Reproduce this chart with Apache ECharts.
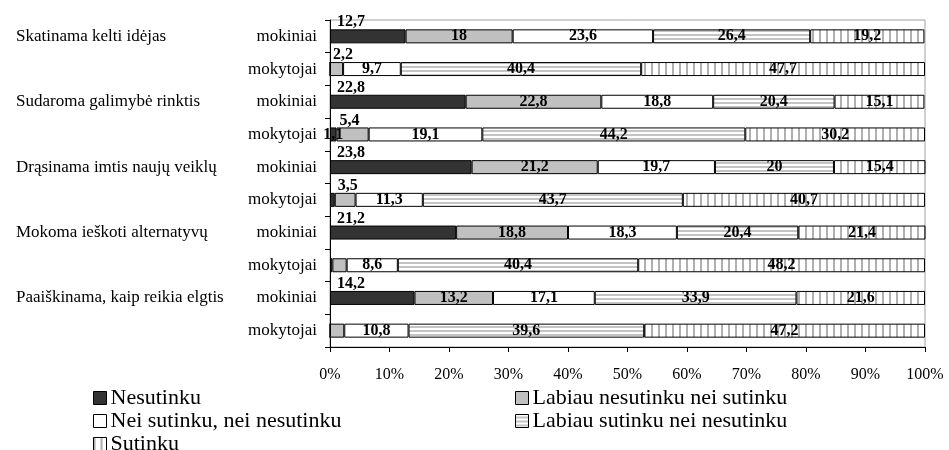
<!DOCTYPE html>
<html>
<head>
<meta charset="utf-8">
<script src="https://cdn.jsdelivr.net/npm/echarts@6/dist/echarts.min.js"></script>
<style>html,body{margin:0;padding:0;background:#fff;}#c{width:949px;height:450px;}</style>
</head>
<body>
<div id="c"></div>
<script>
const groups = ['Skatinama kelti idėjas', 'Sudaroma galimybė rinktis', 'Drąsinama imtis naujų veiklų', 'Mokoma ieškoti alternatyvų', 'Paaiškinama, kaip reikia elgtis'];
const roles = ['mokiniai', 'mokytojai'];
const categories = groups.flatMap(g => roles.map(r => g + '|' + r));
const seriesNames = ['Nesutinku', 'Labiau nesutinku nei sutinku', 'Nei sutinku, nei nesutinku', 'Labiau sutinku nei nesutinku', 'Sutinku'];
const nesutinku = [12.7, 0, 22.8, 1.1, 23.8, 0.8, 21.2, 0.4, 14.2, 0];
const labiauNesutinku = [18, 2.2, 22.8, 5.4, 21.2, 3.5, 18.8, 2.4, 13.2, 2.4];
const neiSutinku = [23.6, 9.7, 18.8, 19.1, 19.7, 11.3, 18.3, 8.6, 17.1, 10.8];
const labiauSutinku = [26.4, 40.4, 20.4, 44.2, 20, 43.7, 20.4, 40.4, 33.9, 39.6];
const sutinku = [19.2, 47.7, 15.1, 30.2, 15.4, 40.7, 21.4, 48.2, 21.6, 47.2];
const xTicks = [0, 10, 20, 30, 40, 50, 60, 70, 80, 90, 100];
// label placement modes per bar (a = above-left, i = inside, n = none)
const labelModes = [
  ['a','n','a','i','a','n','a','n','a','n'],
  ['i','a','i','a','i','a','i','n','i','n'],
  ['i','i','i','i','i','i','i','i','i','i'],
  ['i','i','i','i','i','i','i','i','i','i'],
  ['i','i','i','i','i','i','i','i','i','i']
];
const allValues = [nesutinku, labiauNesutinku, neiSutinku, labiauSutinku, sutinku];
// legend layout: [column, row] for each series
const legendSlots = [[0, 0], [1, 0], [0, 1], [1, 1], [0, 2]];

const SERIF = '"Liberation Serif", "Times New Roman", serif';

function pattern(kind) {
  const c = document.createElement('canvas');
  const ctx = c.getContext('2d');
  if (kind === 'h') {
    c.width = 4; c.height = 4;
    ctx.fillStyle = '#ffffff'; ctx.fillRect(0, 0, 4, 4);
    ctx.fillStyle = '#c4c4c4'; ctx.fillRect(0, 2, 4, 2);
  } else {
    c.width = 7; c.height = 4;
    ctx.fillStyle = '#ffffff'; ctx.fillRect(0, 0, 7, 4);
    ctx.fillStyle = '#b0b0b0'; ctx.fillRect(0, 0, 2, 4);
  }
  return { image: c, repeat: 'repeat' };
}
const fills = ['#333333', '#c0c0c0', '#ffffff', pattern('h'), pattern('v')];
const aboveOffset = [7, 3, 3, 3, 3];

const fmt = v => String(v).replace('.', ',');

const series = seriesNames.map((name, si) => ({
  name: name,
  type: 'bar',
  stack: 'all',
  barWidth: 14,
  yAxisIndex: 0,
  itemStyle: { color: fills[si], borderColor: '#000', borderWidth: 1 },
  data: allValues[si].map((v, i) => {
    const mode = labelModes[si][i];
    let label;
    if (mode === 'n' || v === 0) label = { show: false };
    else if (mode === 'a') label = { show: true, position: [aboveOffset[si], 1], align: 'left', verticalAlign: 'bottom' };
    else label = { show: true, position: 'inside' };
    return { value: v, label: label };
  }),
  label: {
    color: '#000', fontFamily: SERIF, fontWeight: 'bold', fontSize: 16,
    formatter: p => fmt(p.value)
  }
}));

const colX = [93, 515];
const rowY = [387, 410, 433];
const legends = seriesNames.map((name, si) => ({
  left: colX[legendSlots[si][0]], top: rowY[legendSlots[si][1]],
  orient: 'horizontal', padding: 0, icon: 'rect',
  itemWidth: 13, itemHeight: 13,
  itemStyle: { borderColor: '#000', borderWidth: 1 },
  textStyle: { color: '#000', fontFamily: SERIF, fontSize: 22, lineHeight: 22, padding: [0, 0, 0, -1] },
  data: [name]
}));

const chart = echarts.init(document.getElementById('c'), null, { renderer: 'canvas' });
chart.setOption({
  animation: false,
  backgroundColor: '#fff',
  grid: { left: 330, right: 24, top: 20, bottom: 103, show: true, borderColor: '#a0a0a0', borderWidth: 1 },
  xAxis: {
    type: 'value', min: 0, max: 100, interval: 10,
    axisLine: { show: true, lineStyle: { color: '#000' } },
    axisTick: { show: true, length: 5, lineStyle: { color: '#000' } },
    splitLine: { show: false },
    axisLabel: { color: '#000', fontFamily: SERIF, fontSize: 16, margin: 20, formatter: v => xTicks.includes(v) ? v + '%' : '' }
  },
  yAxis: [
    {
      type: 'category', data: categories, inverse: true, position: 'left',
      axisLine: { show: true, lineStyle: { color: '#000' } },
      axisTick: { show: true, length: 5, lineStyle: { color: '#000' } },
      axisLabel: { color: '#000', fontFamily: SERIF, fontSize: 17, margin: 13, formatter: v => v.split('|')[1] }
    },
    {
      type: 'category', data: categories, inverse: true, position: 'left',
      axisLine: { show: false }, axisTick: { show: false },
      axisLabel: { color: '#000', fontFamily: SERIF, fontSize: 17, margin: 314, align: 'left',
        formatter: v => { const p = v.split('|'); return p[1] === roles[0] ? p[0] : ''; } }
    }
  ],
  legend: legends,
  series: series
});
</script>
</body>
</html>
